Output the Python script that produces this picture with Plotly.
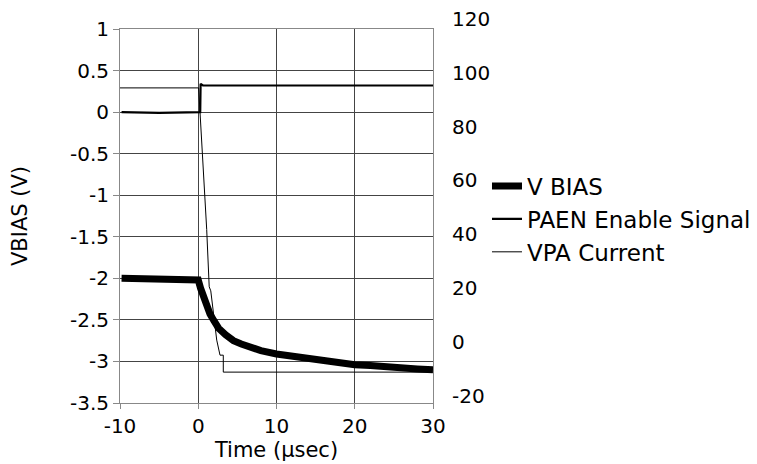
import plotly.graph_objects as go

# V BIAS (left axis, V)
vbias_t = [-9.8, -0.3, 0.0, 0.3, 0.65, 1.0, 1.5, 2.0, 2.6, 3.5, 4.5, 5.5, 6.6, 8.0, 10.0,
           12.0, 14.0, 16.0, 18.0, 20.0, 22.0, 23.0, 24.0, 26.0, 28.0, 30.0]
vbias_v = [-2.0, -2.0, -2.02, -2.12, -2.22, -2.32, -2.43, -2.51, -2.6, -2.68, -2.75, -2.79,
           -2.83, -2.87, -2.91, -2.94, -2.97, -2.99, -3.02, -3.04, -3.05, -3.06, -3.07,
           -3.08, -3.09, -3.10]

# PAEN Enable Signal (left axis, V)
paen_t = [-9.8, -5.0, 0.25, 0.3, 0.6, 10.0, 20.0, 30.0]
paen_v = [0.0, -0.01, 0.0, 0.34, 0.32, 0.32, 0.32, 0.32]

# VPA Current (right axis)
vpa_t = [-10.0, 0.05, 1.08, 1.4, 1.6, 2.36, 2.78, 3.2, 3.2, 30.0]
vpa_v = [94.4, 94.4, 41.8, 20.5, 19.0, 0.7, -4.9, -4.9, -11.2, -11.2]

left_ticks = [1, 0.5, 0, -0.5, -1, -1.5, -2, -2.5, -3, -3.5]
left_labels = ["1", "0.5", "0", "-0.5", "-1", "-1.5", "-2", "-2.5", "-3", "-3.5"]
right_ticks = [120, 100, 80, 60, 40, 20, 0, -20]
x_ticks = [-10, 0, 10, 20, 30]

FONT = "DejaVu Sans"

fig = go.Figure()
fig.add_trace(go.Scatter(x=vbias_t, y=vbias_v, mode="lines", name="V BIAS",
                         line=dict(color="black", width=7), xaxis="x", yaxis="y"))
fig.add_trace(go.Scatter(x=paen_t, y=paen_v, mode="lines", name="PAEN Enable Signal",
                         line=dict(color="black", width=2.2), xaxis="x", yaxis="y"))
fig.add_trace(go.Scatter(x=vpa_t, y=vpa_v, mode="lines", name="VPA Current",
                         line=dict(color="black", width=1), xaxis="x2", yaxis="y2"))

# the page has an 8px body margin, so the figure is sized to fit inside the window
W, H = 749, 456
top_m, bot_m = 11, 61
ph = H - top_m - bot_m
ydom_top = (395 - 21) / ph
y2_bot = (395 - 387.8) / ph

fig.update_layout(
    width=W, height=H, autosize=False,
    margin=dict(l=112, r=324, t=top_m, b=bot_m, autoexpand=False),
    paper_bgcolor="white", plot_bgcolor="rgba(0,0,0,0)",
    font=dict(family=FONT, size=20, color="black"),
    showlegend=True,
    legend=dict(x=1.1725, xanchor="left", y=0.479, yanchor="middle",
                font=dict(size=23), itemwidth=30, tracegroupgap=0,
                bgcolor="rgba(0,0,0,0)"),
    xaxis=dict(range=[-10, 30], domain=[0, 1], tickvals=x_ticks,
               ticktext=[str(v) for v in x_ticks],
               showgrid=True, gridcolor="#444", gridwidth=1,
               showline=True, linecolor="#888", linewidth=1, mirror=True,
               ticks="outside", ticklen=5, tickcolor="#888",
               zeroline=False, anchor="y", automargin=False,
               title=dict(text="Time (µsec)", standoff=5, font=dict(size=21))),
    yaxis=dict(range=[-3.5, 1], domain=[0, ydom_top], tickvals=left_ticks,
               ticktext=left_labels,
               showgrid=True, gridcolor="#444", gridwidth=1,
               showline=True, linecolor="#888", linewidth=1, mirror=True,
               ticks="outside", ticklen=6, tickcolor="#888",
               zeroline=False, anchor="x", automargin=False,
               title=dict(text="VBIAS (V)", standoff=36, font=dict(size=21))),
    xaxis2=dict(range=[-10, 30], domain=[0, 1], anchor="y2", visible=False,
                showgrid=False, zeroline=False),
    yaxis2=dict(range=[-20, 120], domain=[y2_bot, 1.0], side="right", anchor="x2",
                tickvals=right_ticks, ticktext=[str(v) for v in right_ticks],
                showgrid=False, zeroline=False, showline=False, ticks="",
                ticklabelstandoff=18, ticklabeloverflow="allow", automargin=False),
)

fig.write_html("out.html")
